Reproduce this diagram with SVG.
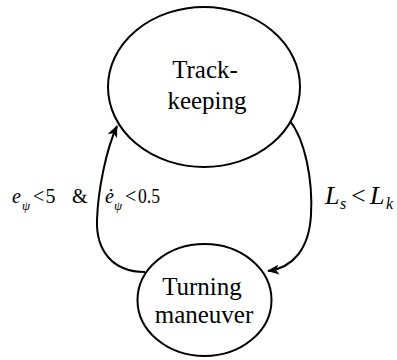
<svg xmlns="http://www.w3.org/2000/svg" width="397" height="360" viewBox="0 0 397 360" font-family="Liberation Serif, Times New Roman, serif">
<style>
.node{fill:#fff;stroke:#000;stroke-width:2}
.lbl{font-size:25px;text-anchor:middle}
.m{font-size:20px}
.it{font-style:italic}
.sub{font-size:13px;font-style:italic}
.big{font-size:26px}
.sub2{font-size:16px;font-style:italic}
.edge{fill:none;stroke:#000;stroke-width:2}
</style>
<defs>
<marker id="arr" viewBox="0 0 12 10" refX="11" refY="5" markerWidth="12" markerHeight="10" markerUnits="userSpaceOnUse" orient="auto">
<path d="M0,0 L12,5 L0,10 L3,5 Z" fill="#000"/>
</marker>
</defs>
<g id="connectors">
<path class="edge" d="M145,272 C112,272 96,250 97,220 C98,190 106,150 117,126" marker-end="url(#arr)"/>
<path class="edge" d="M290,121 C305,140 313,180 311,215 C309,250 292,268 268,271" marker-end="url(#arr)"/>
</g>
<g id="trackkeeping" font-family="Liberation Serif, Times New Roman, serif">
<ellipse class="node" cx="204" cy="87" rx="96" ry="80"/>
<text class="lbl" x="205" y="78">Track-</text>
<text class="lbl" x="207" y="109">keeping</text>
</g>
<g id="turning" font-family="Liberation Serif, Times New Roman, serif">
<ellipse class="node" cx="204.5" cy="300" rx="67" ry="56"/>
<text class="lbl" x="202" y="295">Turning</text>
<text class="lbl" x="204" y="323">maneuver</text>
</g>
<g id="label-left" font-family="Liberation Serif, Times New Roman, serif">
<text class="m it" x="12" y="203">e</text>
<text class="sub" x="22" y="210">ψ</text>
<text class="m" x="33" y="203">&lt;</text>
<text class="m" x="45.5" y="203">5</text>
<text class="m" x="72" y="203">&amp;</text>
<text class="m it" x="105" y="203">ė</text>
<text class="sub" x="114" y="210">ψ</text>
<text class="m" x="125" y="203">&lt;</text>
<text class="m" x="138" y="203" textLength="22" lengthAdjust="spacingAndGlyphs">0.5</text>
</g>
<g id="label-right" font-family="Liberation Serif, Times New Roman, serif">
<text class="big it" x="325" y="204">L</text>
<text class="sub2" x="340" y="209">s</text>
<text class="big" x="351" y="204">&lt;</text>
<text class="big it" x="370" y="204">L</text>
<text class="sub2" x="386" y="209">k</text>
</g>
</svg>
